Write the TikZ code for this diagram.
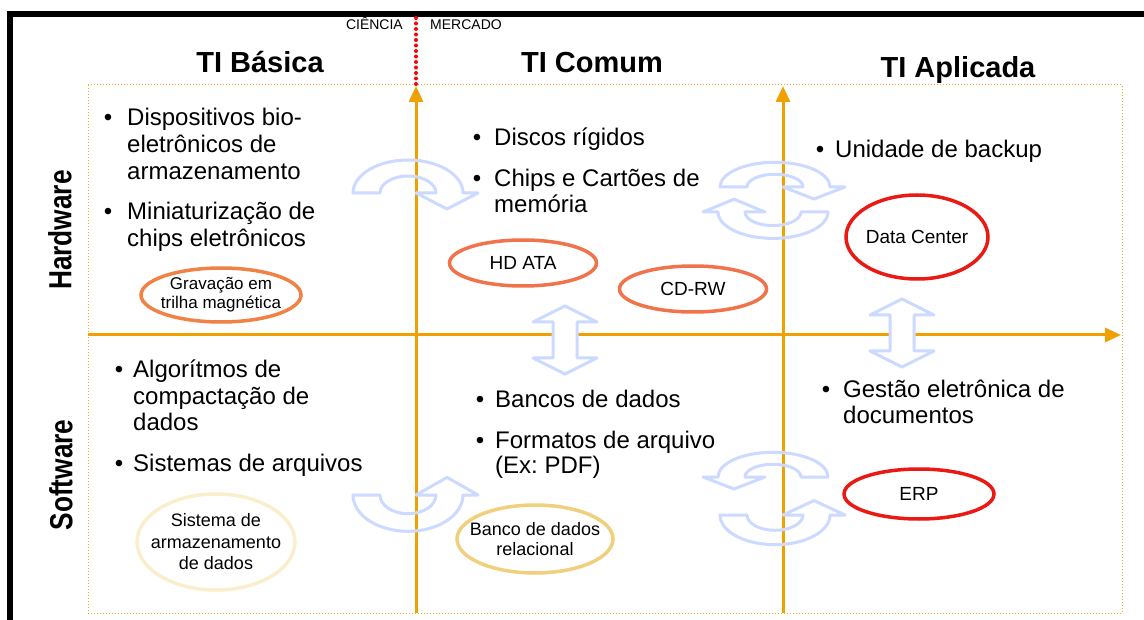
\documentclass[tikz,border=0pt]{standalone}
\usepackage{fontspec}
\setmainfont{Liberation Sans}
\usetikzlibrary{shapes.geometric,arrows.meta}
\definecolor{axisor}{RGB}{240,160,0}
\definecolor{dotor}{RGB}{245,175,40}
\definecolor{carrowc}{RGB}{205,218,255}
\definecolor{ellor}{RGB}{240,130,70}
\definecolor{ellor2}{RGB}{240,115,75}
\definecolor{ellred}{RGB}{235,25,20}
\definecolor{ellpale}{RGB}{250,238,205}
\definecolor{ellgold}{RGB}{240,208,125}
\newcommand\fsz[2]{\fontsize{#1}{#2}\selectfont}
\frenchspacing
\tikzset{
  carrow/.style={draw=carrowc, line width=3pt, line join=round},
  darrow/.style={draw=carrowc, fill=white, line width=3pt, line join=round},
  curvar/.pic={\draw[carrow] (-63,0) arc[start angle=180,end angle=360,x radius=55,y radius=33]
     -- (62,0) -- (31,16) -- (0,0) -- (20,0)
     arc[start angle=0,end angle=-180,x radius=28,y radius=17] -- cycle;},
  dblar/.pic={\draw[darrow] (0,-34) -- (32,-18) -- (12,-18) -- (12,18) -- (32,18) -- (0,34)
     -- (-32,18) -- (-12,18) -- (-12,-18) -- (-32,-18) -- cycle;},
}
\begin{document}
\begin{tikzpicture}[x=1pt,y=-1pt,
  txt/.style={anchor=base west, inner sep=0pt, font=\fsz{24}{27}},
  bul/.style={anchor=base, inner sep=0pt, font=\fsz{24}{27}},
  head/.style={anchor=base, inner sep=0pt, font=\fsz{29}{32}\bfseries},
  small/.style={inner sep=0pt, font=\fsz{14}{16}},
  side/.style={rotate=90, inner sep=0pt, font=\fsz{32}{34}\bfseries},
  oval/.style={ellipse, draw, line width=3.5pt, inner sep=0pt},
  ovtxt/.style={inner sep=0pt, align=center, font=\fsz{19}{21}},
  axis/.style={line width=3pt, draw=axisor, -{Triangle[width=14pt,length=16pt]}},
]
\useasboundingbox (0,0) rectangle (1144,620);
\fill[white] (0,0) rectangle (1144,620);
\fill[black] (7,11) rectangle (1144,17);
\fill[black] (7,11) rectangle (13,620);

\draw[dotor, line width=1pt, dotted] (88,85) rectangle (1122,613);
\draw[red, line width=4pt, dash pattern=on 0pt off 5.5pt, line cap=round] (416,18) -- (416,84);

\coordinate (v1b) at (416,613); \coordinate (v1t) at (416,86);
\coordinate (v2b) at (783,613); \coordinate (v2t) at (783,86);
\coordinate (hl) at (88,335);   \coordinate (hr) at (1121,335);
\draw[axis] (v1b) -- (v1t);
\draw[axis] (v2b) -- (v2t);
\draw[axis] (hl) -- (hr);

% curved arrows
\begin{scope}[shift={(416,193)}] \pic[transform shape] {curvar}; \end{scope}
\begin{scope}[shift={(783,187)}, yscale=0.75] \pic[transform shape] {curvar}; \end{scope}
\begin{scope}[shift={(765,212)}, xscale=-1, yscale=-0.8] \pic[transform shape] {curvar}; \end{scope}
\begin{scope}[shift={(416,495)}, yscale=-1.1] \pic[transform shape] {curvar}; \end{scope}
\begin{scope}[shift={(765,477)}, xscale=-1, yscale=0.75] \pic[transform shape] {curvar}; \end{scope}
\begin{scope}[shift={(783,515)}, yscale=-0.9] \pic[transform shape] {curvar}; \end{scope}
% double arrows
\begin{scope}[shift={(565,340)}] \pic[transform shape] {dblar}; \end{scope}
\begin{scope}[shift={(902,333)}] \pic[transform shape] {dblar}; \end{scope}

% headers
\node[small, anchor=base east] (cien) at (403,30) {CIÊNCIA};
\node[small, anchor=base west] (merc) at (430,30) {MERCADO};
\node[head] (h1) at (260,73) {TI Básica};
\node[head] (h2) at (592,73) {TI Comum};
\node[head] (h3) at (958,78) {TI Aplicada};
\node[side] (hw) at (60,230) {\scalebox{0.82}[1]{Hardware}};
\node[side] (sw) at (61,475) {\scalebox{0.82}[1]{Software}};

% top left
\node[bul] (b11) at (108,126) {•};
\node[txt] (t11) at (127,126) {Dispositivos bio-};
\node[txt] (t12) at (127,153) {eletrônicos de};
\node[txt] (t13) at (127,180) {armazenamento};
\node[bul] (b12) at (108,220) {•};
\node[txt] (t14) at (127,220) {Miniaturização de};
\node[txt] (t15) at (127,247) {chips eletrônicos};
% top center
\node[bul] (b21) at (477,146) {•};
\node[txt] (t21) at (494,146) {Discos rígidos};
\node[bul] (b22) at (477,187) {•};
\node[txt] (t22) at (494,187) {Chips e Cartões de};
\node[txt] (t23) at (494,213) {memória};
% top right
\node[bul] (b31) at (820,158) {•};
\node[txt] (t31) at (835,158) {Unidade de backup};
% bottom left
\node[bul] (b41) at (119,378) {•};
\node[txt] (t41) at (133,378) {Algorítmos de};
\node[txt] (t42) at (133,405) {compactação de};
\node[txt] (t43) at (133,431) {dados};
\node[bul] (b42) at (119,471) {•};
\node[txt] (t44) at (133,471) {Sistemas de arquivos};
% bottom center
\node[bul] (b51) at (480,407) {•};
\node[txt] (t51) at (495,407) {Bancos de dados};
\node[bul] (b52) at (480,448) {•};
\node[txt] (t52) at (495,448) {Formatos de arquivo};
\node[txt] (t53) at (495,473) {(Ex: PDF)};
% bottom right
\node[bul] (b61) at (826,398) {•};
\node[txt] (t61) at (843,398) {Gestão eletrônica de};
\node[txt] (t62) at (843,424) {documentos};

% ellipses
\node[oval, draw=ellor, minimum width=160pt, minimum height=54pt] (e1) at (221,295) {};
\node[ovtxt, font=\fsz{17}{19}] (e1t) at (e1) {Gravação em\\trilha magnética};
\node[oval, draw=ellor2, minimum width=147pt, minimum height=46pt] (e2) at (523,263) {};
\node[ovtxt] (e2t) at (e2) {HD ATA};
\node[oval, draw=ellor2, minimum width=147pt, minimum height=46pt] (e3) at (693,289) {};
\node[ovtxt] (e3t) at (e3) {CD-RW};
\node[oval, draw=ellred, minimum width=142pt, minimum height=84pt] (e4) at (917,237) {};
\node[ovtxt] (e4t) at (e4) {Data Center};
\node[oval, draw=ellpale, minimum width=158pt, minimum height=96pt] (e5) at (216,542) {};
\node[ovtxt, font=\fsz{18}{21.5}] (e5t) at (e5) {Sistema de\\armazenamento\\de dados};
\node[oval, draw=ellgold, minimum width=156pt, minimum height=68pt] (e6) at (535,539) {};
\node[ovtxt, font=\fsz{18}{20.5}] (e6t) at (e6) {Banco de dados\\relacional};
\node[oval, draw=ellred, minimum width=150pt, minimum height=50pt] (e7) at (919,494) {};
\node[ovtxt] (e7t) at (e7) {ERP};
\end{tikzpicture}
\end{document}
